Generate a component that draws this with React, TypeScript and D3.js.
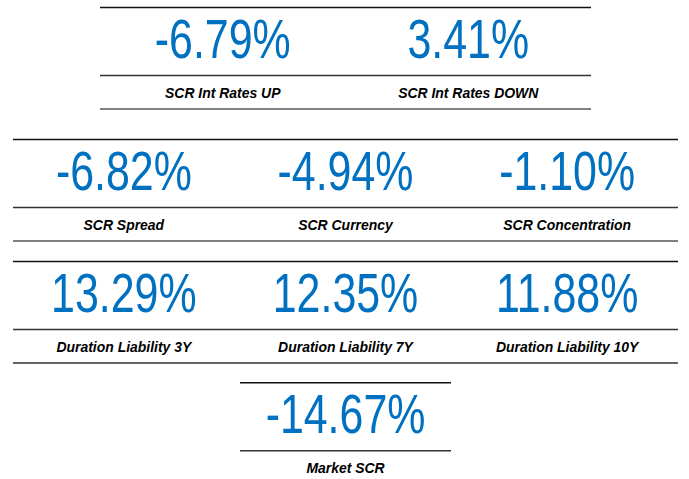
import React from "react";
import * as d3 from "d3";

const labels = [
  "SCR Int Rates UP",
  "SCR Int Rates DOWN",
  "SCR Spread",
  "SCR Currency",
  "SCR Concentration",
  "Duration Liability 3Y",
  "Duration Liability 7Y",
  "Duration Liability 10Y",
  "Market SCR",
];
const values = [-6.79, 3.41, -6.82, -4.94, -1.1, 13.29, 12.35, 11.88, -14.67];
const rowSizes = [2, 3, 3, 1];

const W = 689;
const H = 479;
const CX = 345.5;
const rowLayout = [
  { top: 7.5, width: 491, bottomColor: "#808080", bottomWidth: 1.8 },
  { top: 139.5, width: 665, bottomColor: "#808080", bottomWidth: 2.2 },
  { top: 261.5, width: 665, bottomColor: "#333333", bottomWidth: 1.5 },
  { top: 382.7, width: 211, bottomColor: "#333333", bottomWidth: 1.5 },
];

const fmt = (v: number) => d3.format(".2f")(v).replace("\u2212", "-") + "%";

export default function App() {
  let idx = 0;
  const rows = rowSizes.map((n, r) => {
    const items = d3.range(n).map(() => idx++);
    return { items, layout: rowLayout[r] };
  });
  return (
    <svg
      width={W}
      height={H}
      style={{ position: "absolute", left: 0, top: 0, background: "#fff" }}
    >
      {rows.map(({ items, layout }, r) => {
        const x0 = CX - layout.width / 2;
        const x1 = CX + layout.width / 2;
        const xs = d3
          .scaleBand<number>()
          .domain(items)
          .range([x0, x1])
          .padding(0);
        const t = layout.top;
        return (
          <g key={r}>
            <line x1={x0} x2={x1} y1={t} y2={t} stroke="#111" strokeWidth={1.4} />
            <line x1={x0} x2={x1} y1={t + 68} y2={t + 68} stroke="#333" strokeWidth={1.4} />
            <line
              x1={x0}
              x2={x1}
              y1={t + 101.5}
              y2={t + 101.5}
              stroke={layout.bottomColor}
              strokeWidth={layout.bottomWidth}
            />
            {items.map((i) => {
              const cx = (xs(i) as number) + xs.bandwidth() / 2;
              return (
                <g key={i}>
                  <text
                    transform={`translate(${cx},${t + 50.5}) scale(0.78,1)`}
                    textAnchor="middle"
                    fontFamily="'Liberation Sans', Arial, sans-serif"
                    fontSize={55}
                    fill="#0070C0"
                  >
                    {fmt(values[i])}
                  </text>
                  <text
                    transform={`translate(${cx},${t + 90}) scale(0.9,1)`}
                    textAnchor="middle"
                    fontFamily="'Liberation Sans', Arial, sans-serif"
                    fontSize={15.5}
                    fontWeight="bold"
                    fontStyle="italic"
                    fill="#000"
                  >
                    {labels[i]}
                  </text>
                </g>
              );
            })}
          </g>
        );
      })}
    </svg>
  );
}
